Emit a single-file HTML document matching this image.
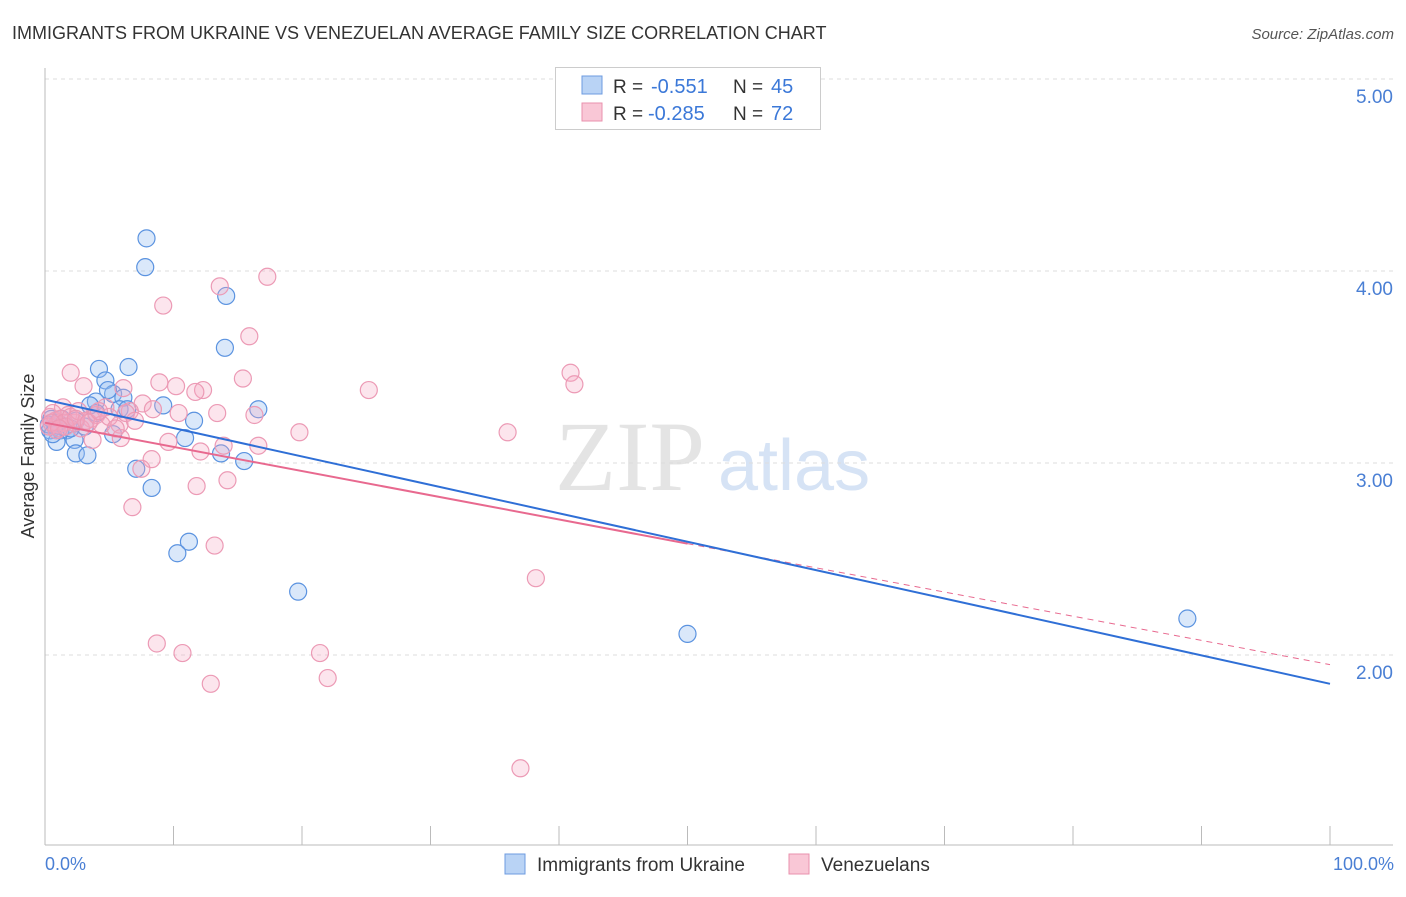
<!DOCTYPE html>
<html><head><meta charset="utf-8"><style>
body{margin:0;background:#fff;font-family:"Liberation Sans",sans-serif}
</style></head><body>
<svg width="1406" height="892" xmlns="http://www.w3.org/2000/svg" style="font-family:'Liberation Sans',sans-serif">
<text x="12" y="39" font-size="18" fill="#333">IMMIGRANTS FROM UKRAINE VS VENEZUELAN AVERAGE FAMILY SIZE CORRELATION CHART</text>
<text x="1394" y="39" font-size="15" fill="#555" text-anchor="end" font-style="italic">Source: ZipAtlas.com</text>
<text x="555" y="490" font-size="100" fill="#e4e4e4" font-family="Liberation Serif">ZIP</text>
<text x="718" y="490" font-size="72" fill="#d6e3f5">atlas</text>
<g id="grid"></g>
<g id="axes"></g>
<g id="pts"></g>
<text transform="translate(34,456) rotate(-90)" font-size="18" fill="#333" text-anchor="middle">Average Family Size</text>
<text x="45" y="870" font-size="18" fill="#4a7fd4">0.0%</text>
<text x="1394" y="870" font-size="18" fill="#4a7fd4" text-anchor="end">100.0%</text>
<g>
<rect x="555.5" y="67.5" width="265" height="62" fill="#fff" stroke="#ccc"/>
<rect x="582" y="76" width="20" height="18" fill="#b9d3f5" stroke="#6d9be0"/>
<rect x="582" y="103" width="20" height="18" fill="#f9c7d6" stroke="#e991ad"/>
<text x="613" y="93" font-size="19" fill="#333">R =</text>
<text x="651" y="93" font-size="20" fill="#3b78d8">-0.551</text>
<text x="733" y="93" font-size="19" fill="#333">N =</text>
<text x="771" y="93" font-size="20" fill="#3b78d8">45</text>
<text x="613" y="120" font-size="19" fill="#333">R =</text>
<text x="648" y="120" font-size="20" fill="#3b78d8">-0.285</text>
<text x="733" y="120" font-size="19" fill="#333">N =</text>
<text x="771" y="120" font-size="20" fill="#3b78d8">72</text>
</g>
<g>
<rect x="505" y="854" width="20" height="20" fill="#b9d3f5" stroke="#6d9be0"/>
<text x="537" y="871" font-size="19" fill="#333">Immigrants from Ukraine</text>
<rect x="789" y="854" width="20" height="20" fill="#f9c7d6" stroke="#e991ad"/>
<text x="821" y="871" font-size="19" fill="#333">Venezuelans</text>
</g>
</svg>
<script>
const yTicks=[5,4,3,2];
const yTickLabels=["5.00","4.00","3.00","2.00"];
const blueX=[7.9,7.8,14.1,14.0,4.2,6.5,4.7,5.3,4.9,6.1,9.2,16.6,3.96,5.8,6.4,11.6,1.3,2.4,3.1,0.8,1.7,1.2,0.4,5.3,10.9,2.3,0.9,2.4,3.3,13.7,15.5,7.1,8.3,11.2,10.3,19.7,50.0,88.9,0.5,0.3,1.0,2.0,4.0,3.5,0.6];
const blueY=[4.17,4.02,3.87,3.60,3.49,3.50,3.43,3.36,3.38,3.34,3.30,3.28,3.32,3.28,3.28,3.22,3.23,3.22,3.19,3.19,3.17,3.17,3.17,3.15,3.13,3.12,3.11,3.05,3.04,3.05,3.01,2.97,2.87,2.59,2.53,2.33,2.11,2.19,3.23,3.20,3.21,3.18,3.26,3.30,3.15];
const pinkX=[17.3,13.6,9.2,15.9,2.0,40.9,41.2,15.4,3.0,6.1,8.9,10.2,12.3,11.7,25.2,7.6,8.4,10.4,13.4,16.3,6.6,4.7,1.4,3.6,5.8,19.8,36.0,3.7,5.9,9.6,13.9,16.6,12.1,8.3,7.5,11.8,14.2,6.8,13.2,38.2,8.7,10.7,21.4,12.9,22.0,37.0,0.4,0.8,1.0,1.8,2.3,2.8,0.6,0.3,1.2,1.5,2.0,2.6,3.2,4.0,4.4,5.0,5.5,6.3,7.0,0.9,1.6,2.4,3.4,4.2,0.5,1.1];
const pinkY=[3.97,3.92,3.82,3.66,3.47,3.47,3.41,3.44,3.40,3.39,3.42,3.40,3.38,3.37,3.38,3.31,3.28,3.26,3.26,3.25,3.27,3.29,3.29,3.23,3.20,3.16,3.16,3.12,3.13,3.11,3.09,3.09,3.06,3.02,2.97,2.88,2.91,2.77,2.57,2.40,2.06,2.01,2.01,1.85,1.88,1.41,3.24,3.22,3.20,3.25,3.21,3.18,3.26,3.19,3.23,3.21,3.24,3.27,3.22,3.25,3.20,3.24,3.18,3.26,3.22,3.17,3.19,3.23,3.21,3.27,3.21,3.18];
const blueTrend=[3.33,1.85];
const pinkTrend=[3.21,1.95];
const pinkSolidEnd=50;
const NS="http://www.w3.org/2000/svg";
const X=v=>45+v*12.85, Y=v=>79+(5-v)*192;
function mk(t,a,p){const e=document.createElementNS(NS,t);for(const k in a)e.setAttribute(k,a[k]);p.appendChild(e);return e;}
const grid=document.getElementById('grid'),axes=document.getElementById('axes'),pts=document.getElementById('pts');
yTicks.forEach((t,i)=>{
 const l=mk('line',{x1:45,x2:1393,y1:Y(t),y2:Y(t),stroke:'#ddd','stroke-dasharray':'4,4'},grid);
 
 
 const tx=mk('text',{x:1393,y:Y(t)+24,'font-size':19,fill:'#4a7fd4','text-anchor':'end'},grid);
 tx.textContent=yTickLabels[i];
 
 
});
let ax=mk('line',{x1:45,x2:45,y1:68,y2:845,stroke:'#bbb'},axes);


ax=mk('line',{x1:45,x2:1393,y1:845,y2:845,stroke:'#bbb'},axes);


for(let i=0;i<=10;i++){const t=mk('line',{x1:X(i*10),x2:X(i*10),y1:826,y2:845,stroke:'#bbb'},axes);
 
 }
blueX.forEach((x,i)=>{const c=mk('circle',{cx:X(x),cy:Y(blueY[i]),r:8.5,fill:'rgba(150,190,240,0.35)',stroke:'#5b93e0','stroke-width':1.2},pts);
 
 });
pinkX.forEach((x,i)=>{const c=mk('circle',{cx:X(x),cy:Y(pinkY[i]),r:8.5,fill:'rgba(245,170,195,0.3)',stroke:'#ec9ab5','stroke-width':1.2},pts);
 
 });
const pAt=x=>pinkTrend[0]+(pinkTrend[1]-pinkTrend[0])*x/100;
let tl=mk('line',{x1:X(0),y1:Y(pAt(0)),x2:X(pinkSolidEnd),y2:Y(pAt(pinkSolidEnd)),stroke:'#e8698f','stroke-width':2},pts);


tl=mk('line',{x1:X(pinkSolidEnd),y1:Y(pAt(pinkSolidEnd)),x2:X(100),y2:Y(pAt(100)),stroke:'#e8698f','stroke-width':1,'stroke-dasharray':'6,5'},pts);


tl=mk('line',{x1:X(0),y1:Y(blueTrend[0]),x2:X(100),y2:Y(blueTrend[1]),stroke:'#2f6fd6','stroke-width':2},pts);


</script>
</body></html>
